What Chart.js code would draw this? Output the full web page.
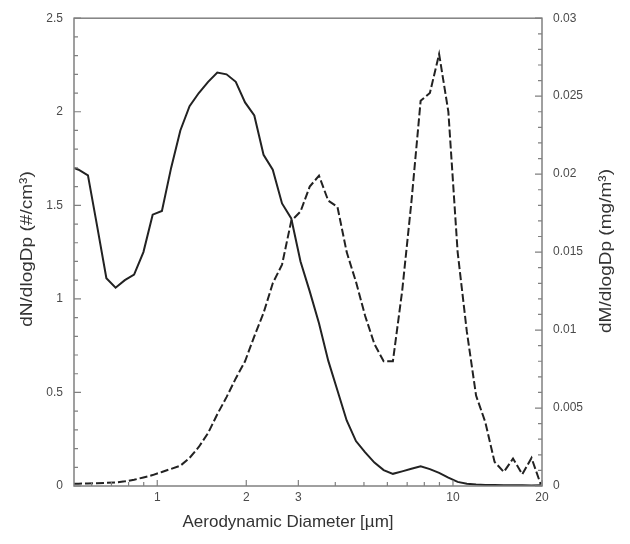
<!DOCTYPE html>
<html>
<head>
<meta charset="utf-8">
<script src="https://cdn.jsdelivr.net/npm/chart.js@4/dist/chart.umd.min.js"></script>
<style>
  html, body { margin: 0; padding: 0; background: #fff; }
  canvas { display: block; }
</style>
</head>
<body>
<canvas id="psd" width="630" height="544"></canvas>
<script>
// APS channel midpoints (um)
const diameters = [0.523, 0.542, 0.583, 0.626, 0.673, 0.723, 0.777, 0.835, 0.898, 0.965,
  1.037, 1.114, 1.197, 1.286, 1.382, 1.486, 1.596, 1.715, 1.843, 1.981,
  2.129, 2.288, 2.458, 2.642, 2.839, 3.051, 3.278, 3.523, 3.786, 4.068,
  4.371, 4.698, 5.048, 5.425, 5.829, 6.264, 6.732, 7.234, 7.774, 8.354,
  8.977, 9.647, 10.37, 11.14, 11.97, 12.86, 13.82, 14.86, 15.96, 17.15,
  18.43, 19.81];

// dN/dlogDp (#/cm3), left axis, solid
const numberConc = [1.70, 1.69, 1.66, 1.39, 1.11, 1.06, 1.10, 1.13, 1.25, 1.45,
  1.47, 1.70, 1.90, 2.03, 2.10, 2.16, 2.21, 2.20, 2.16, 2.05,
  1.98, 1.77, 1.69, 1.51, 1.43, 1.20, 1.04, 0.87, 0.67, 0.51,
  0.35, 0.24, 0.18, 0.125, 0.085, 0.065, 0.078, 0.092, 0.105, 0.09,
  0.07, 0.045, 0.022, 0.012, 0.008, 0.006, 0.005, 0.004, 0.004, 0.004,
  0.003, 0.004];

// dM/dlogDp (mg/m3), right axis, dashed
const massConc = [0.00015, 0.00015, 0.00016, 0.00018, 0.0002, 0.00023, 0.0003, 0.0004, 0.00055, 0.0007,
  0.0009, 0.0011, 0.0013, 0.0018, 0.0025, 0.0034, 0.0046, 0.0057, 0.0069, 0.0080,
  0.0096, 0.0111, 0.0130, 0.0142, 0.0170, 0.0176, 0.0192, 0.0199, 0.0183, 0.0179,
  0.0150, 0.0131, 0.0109, 0.0091, 0.0080, 0.0080, 0.0125, 0.0182, 0.0247, 0.0252,
  0.0277, 0.0240, 0.0150, 0.0099, 0.0058, 0.0041, 0.00155, 0.0009, 0.00176, 0.00075,
  0.0018, 0.0001];

const xTicks = [0.6, 0.7, 0.8, 0.9, 1, 2, 3, 4, 5, 6, 7, 8, 9, 10, 20];
const xLabels = [1, 2, 3, 10, 20];
const leftLabels = [0, 0.5, 1, 1.5, 2, 2.5];
const rightLabels = [0, 0.005, 0.01, 0.015, 0.02, 0.025, 0.03];

const lineColor = "#222";
const axisColor = "#808080";
const textColor = "#4a4a4a";
const tickFont = { family: "Liberation Sans, Arial, sans-serif", size: 12 };

function stepTicks(max, step) {
  let out = [];
  let n = Math.round(max / step);
  for (let i = 0; i <= n; i++) out.push({ value: Math.round(i * step * 10000) / 10000 });
  return out;
}

function isLabel(list, v) {
  return list.some((l) => Math.abs(l - v) < 1e-9);
}

function verticalTitle(ctx, text, x, y) {
  ctx.save();
  ctx.translate(x, y);
  ctx.rotate(-Math.PI / 2);
  ctx.scale(1.12, 1);
  ctx.fillText(text, 0, 0);
  ctx.restore();
}

const frameAndTicks = {
  id: "frameAndTicks",
  afterDraw(chart) {
    const { ctx, chartArea: a, scales } = chart;
    ctx.save();
    ctx.strokeStyle = axisColor;
    ctx.lineWidth = 1.5;
    ctx.strokeRect(a.left, a.top, a.right - a.left, a.bottom - a.top);

    ctx.lineWidth = 1.2;
    ctx.beginPath();
    scales.x.ticks.forEach((t) => {
      let px = scales.x.getPixelForValue(t.value);
      let len = isLabel(xLabels, t.value) ? 6 : 4;
      ctx.moveTo(px, a.bottom);
      ctx.lineTo(px, a.bottom - len);
    });
    scales.y.ticks.forEach((t) => {
      let py = scales.y.getPixelForValue(t.value);
      let len = isLabel(leftLabels, t.value) ? 7 : 4;
      ctx.moveTo(a.left, py);
      ctx.lineTo(a.left + len, py);
    });
    scales.y1.ticks.forEach((t) => {
      let py = scales.y1.getPixelForValue(t.value);
      let len = isLabel(rightLabels, t.value) ? 7 : 4;
      ctx.moveTo(a.right, py);
      ctx.lineTo(a.right - len, py);
    });
    ctx.stroke();

    // axis titles
    ctx.fillStyle = "#333";
    ctx.font = "17px Liberation Sans, Arial, sans-serif";
    ctx.textAlign = "center";
    ctx.textBaseline = "middle";
    ctx.fillText("Aerodynamic Diameter [\u00B5m]", 288, 522);

    ctx.font = "17px Liberation Sans, Arial, sans-serif";
    verticalTitle(ctx, "dN/dlogDp (#/cm\u00B3)", 27, 249);
    verticalTitle(ctx, "dM/dlogDp (mg/m\u00B3)", 606, 251);
    ctx.restore();
  },
};

const ctx = document.getElementById("psd").getContext("2d");

new Chart(ctx, {
  type: "line",
  data: {
    datasets: [
      {
        label: "dN/dlogDp",
        data: diameters.map((d, i) => ({ x: d, y: numberConc[i] })),
        yAxisID: "y",
        borderColor: lineColor,
        borderWidth: 2,
        pointRadius: 0,
        tension: 0,
      },
      {
        label: "dM/dlogDp",
        data: diameters.map((d, i) => ({ x: d, y: massConc[i] })),
        yAxisID: "y1",
        borderColor: lineColor,
        borderWidth: 2,
        borderDash: [8, 3],
        pointRadius: 0,
        tension: 0,
      },
    ],
  },
  options: {
    responsive: false,
    animation: false,
    layout: { padding: { top: 15 } },
    plugins: {
      legend: { display: false },
      tooltip: { enabled: false },
    },
    scales: {
      x: {
        type: "logarithmic",
        position: "bottom",
        min: 0.523,
        max: 20,
        grid: { display: false, drawTicks: false },
        border: { display: false },
        afterBuildTicks: (s) => {
          s.ticks = xTicks.map((v) => ({ value: v }));
        },
        afterFit: (s) => {
          s.height = 58;
        },
        ticks: {
          autoSkip: false,
          maxRotation: 0,
          padding: 4,
          color: textColor,
          font: tickFont,
          callback: (v) => (isLabel(xLabels, v) ? String(v) : ""),
        },
      },
      y: {
        position: "left",
        min: 0,
        max: 2.5,
        grid: { display: false, drawTicks: false },
        border: { display: false },
        afterBuildTicks: (s) => {
          s.ticks = stepTicks(2.5, 0.1);
        },
        afterFit: (s) => {
          s.width = 74;
        },
        ticks: {
          autoSkip: false,
          padding: 11,
          color: textColor,
          font: tickFont,
          callback: (v) => (isLabel(leftLabels, v) ? String(Number(v.toFixed(1))) : ""),
        },
      },
      y1: {
        position: "right",
        min: 0,
        max: 0.03,
        grid: { display: false, drawTicks: false },
        border: { display: false },
        afterBuildTicks: (s) => {
          s.ticks = stepTicks(0.03, 0.001);
        },
        afterFit: (s) => {
          s.width = 88;
        },
        ticks: {
          autoSkip: false,
          padding: 11,
          color: textColor,
          font: tickFont,
          callback: (v) => (isLabel(rightLabels, v) ? String(Number(v.toFixed(3))) : ""),
        },
      },
    },
  },
  plugins: [frameAndTicks],
});
</script>
</body>
</html>
